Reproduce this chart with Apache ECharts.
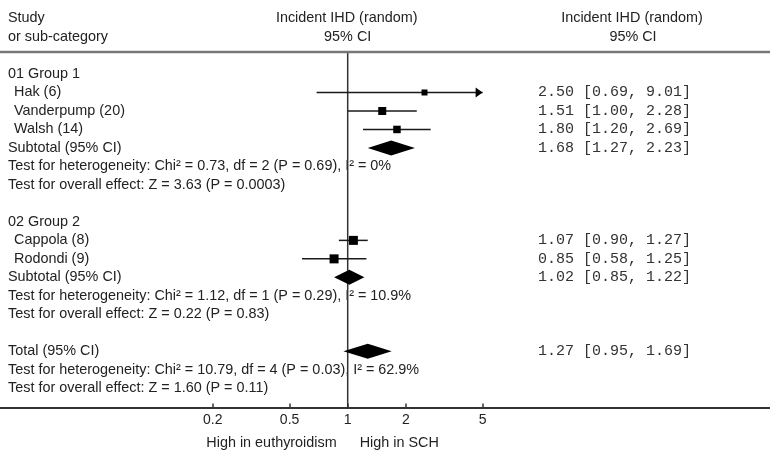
<!DOCTYPE html>
<html><head><meta charset="utf-8">
<script src="https://cdn.jsdelivr.net/npm/echarts@6/dist/echarts.min.js"></script>
<style>html,body{margin:0;padding:0;background:#fff}#c{width:770px;height:451px}</style>
</head><body><div id="c"></div>
<script>
// ---------------- data ----------------
const groupLabels = ['01 Group 1', '02 Group 2'];
const groupRows = [0, 8];

const studyNames = ['Hak (6)', 'Vanderpump (20)', 'Walsh (14)', 'Cappola (8)', 'Rodondi (9)'];
const studyRows = [1, 2, 3, 9, 10];
const studyEst = [2.50, 1.51, 1.80, 1.07, 0.85];
const studyLo  = [0.69, 1.00, 1.20, 0.90, 0.58];
const studyHi  = [9.01, 2.28, 2.69, 1.27, 1.25];
const studyBox = [6, 8, 7.5, 9, 9]; // square size (weight)

const pooledNames = ['Subtotal (95% CI)', 'Subtotal (95% CI)', 'Total (95% CI)'];
const pooledRows = [4, 11, 15];
const pooledEst = [1.68, 1.02, 1.27];
const pooledLo  = [1.27, 0.85, 0.95];
const pooledHi  = [2.23, 1.22, 1.69];

const testTexts = [
  'Test for heterogeneity: Chi\u00b2 = 0.73, df = 2 (P = 0.69), I\u00b2 = 0%',
  'Test for overall effect: Z = 3.63 (P = 0.0003)',
  'Test for heterogeneity: Chi\u00b2 = 1.12, df = 1 (P = 0.29), I\u00b2 = 10.9%',
  'Test for overall effect: Z = 0.22 (P = 0.83)',
  'Test for heterogeneity: Chi\u00b2 = 10.79, df = 4 (P = 0.03), I\u00b2 = 62.9%',
  'Test for overall effect: Z = 1.60 (P = 0.11)'
];
const testRows = [5, 6, 12, 13, 16, 17];

const tickValues = [0.2, 0.5, 1, 2, 5];
const plotMin = 0.2, plotMax = 5;
const favourLeft = 'High in euthyroidism';
const favourRight = 'High in SCH';
const headerLeft = ['Study', 'or sub-category'];
const headerMid = ['Incident IHD (random)', '95% CI'];
const headerRight = ['Incident IHD (random)', '95% CI'];

// ---------------- layout ----------------
const W = 770, H = 451;
const PX_ONE = 347.7, PX_DEC = 193;
const xMin = Math.pow(10, -PX_ONE / PX_DEC);
const xMax = Math.pow(10, (W - PX_ONE) / PX_DEC);
const yMin = -1.19, yMax = 18.04;
const gridTop = 52, gridBottom = 43.5;
const FAM = '"Liberation Sans", Arial, sans-serif';
const SANS = '14.4px ' + FAM;
const MONO = '15px "Liberation Mono", "Courier New", monospace';
const TXT = '#222';

const fmt = v => v.toFixed(2);
const ciText = (e, l, h) => fmt(e) + ' [' + fmt(l) + ', ' + fmt(h) + ']';

function textSeries(rows, texts, xPx, font, color, align) {
  return {
    type: 'custom', coordinateSystem: 'cartesian2d', silent: true, z: 1, clip: false,
    data: rows.map(r => [1, r]),
    encode: { x: 0, y: 1 },
    renderItem: (params, api) => {
      const y = api.coord([1, api.value(1)])[1];
      return { type: 'text', x: xPx, y: y,
        style: { text: texts[params.dataIndex], font: font, fill: color, align: align, verticalAlign: 'middle' } };
    }
  };
}

const chart = echarts.init(document.getElementById('c'), null, { renderer: 'canvas' });

const option = {
  animation: false,
  backgroundColor: '#fff',
  grid: { left: 0, right: 0, top: gridTop, bottom: gridBottom },
  xAxis: {
    type: 'log', logBase: 10, min: xMin, max: xMax, position: 'bottom',
    splitLine: { show: false },
    axisLine: { show: true, onZero: false, lineStyle: { color: '#333', width: 2 } },
    axisTick: { show: true, inside: true, customValues: tickValues, length: 4, lineStyle: { color: '#333', width: 1.5 } },
    axisLabel: { show: true, customValues: tickValues, formatter: v => String(+(+v).toPrecision(3)),
      fontFamily: FAM, fontSize: 14, color: TXT, margin: 6 }
  },
  yAxis: { type: 'value', inverse: true, min: yMin, max: yMax, show: false },
  graphic: [
    { type: 'line', shape: { x1: 0, y1: gridTop, x2: W, y2: gridTop }, style: { stroke: '#777', lineWidth: 2.5 }, z: 10 },
    { type: 'text', x: 8, y: 18, style: { text: headerLeft[0], font: SANS, fill: TXT, verticalAlign: 'middle' } },
    { type: 'text', x: 8, y: 37, style: { text: headerLeft[1], font: SANS, fill: TXT, verticalAlign: 'middle' } },
    { type: 'text', x: PX_ONE - 1, y: 18, style: { text: headerMid[0], font: SANS, fill: TXT, align: 'center', verticalAlign: 'middle' } },
    { type: 'text', x: PX_ONE, y: 37, style: { text: headerMid[1], font: SANS, fill: TXT, align: 'center', verticalAlign: 'middle' } },
    { type: 'text', x: 632, y: 18, style: { text: headerRight[0], font: SANS, fill: TXT, align: 'center', verticalAlign: 'middle' } },
    { type: 'text', x: 633, y: 37, style: { text: headerRight[1], font: SANS, fill: TXT, align: 'center', verticalAlign: 'middle' } },
    { type: 'text', x: PX_ONE - 11, y: 443, style: { text: favourLeft, font: SANS, fill: TXT, align: 'right', verticalAlign: 'middle' } },
    { type: 'text', x: PX_ONE + 12, y: 443, style: { text: favourRight, font: SANS, fill: TXT, align: 'left', verticalAlign: 'middle' } }
  ],
  series: [
    textSeries(groupRows, groupLabels, 8, SANS, TXT, 'left'),
    textSeries(studyRows, studyNames, 14, SANS, TXT, 'left'),
    textSeries(pooledRows, pooledNames, 8, SANS, TXT, 'left'),
    textSeries(testRows, testTexts, 8, SANS, TXT, 'left'),
    textSeries(studyRows, studyEst.map((e, i) => ciText(e, studyLo[i], studyHi[i])), 538, MONO, '#333', 'left'),
    textSeries(pooledRows, pooledEst.map((e, i) => ciText(e, pooledLo[i], pooledHi[i])), 538, MONO, '#333', 'left'),
    {
      type: 'line', z: 3, silent: true, symbol: 'none',
      data: [[1, yMin], [1, yMax]],
      lineStyle: { color: '#333', width: 1.5 }
    },
    {
      type: 'custom', z: 4, silent: true, clip: false,
      data: studyRows.map((r, i) => [r, studyEst[i], studyLo[i], studyHi[i]]),
      encode: { x: [1, 2, 3], y: 0 },
      renderItem: (params, api) => {
        const i = params.dataIndex;
        const row = api.value(0), est = api.value(1), lo = api.value(2), hi = api.value(3);
        const y = api.coord([1, row])[1];
        const xl = api.coord([Math.max(lo, plotMin), row])[0];
        const xh = api.coord([Math.min(hi, plotMax), row])[0];
        const xe = api.coord([est, row])[0];
        const s = studyBox[i];
        const children = [
          { type: 'line', shape: { x1: xl, y1: y, x2: xh, y2: y }, style: { stroke: '#1a1a1a', lineWidth: 1.5 } },
          { type: 'rect', shape: { x: xe - s / 2, y: y - s / 2, width: s, height: s }, style: { fill: '#000' } }
        ];
        if (hi > plotMax) {
          children.push({ type: 'polygon', shape: { points: [[xh, y], [xh - 7, y - 5], [xh - 7, y + 5]] }, style: { fill: '#000' } });
        }
        return { type: 'group', children: children };
      }
    },
    {
      type: 'custom', z: 4, silent: true, clip: false,
      data: pooledRows.map((r, i) => [r, pooledEst[i], pooledLo[i], pooledHi[i]]),
      encode: { x: [1, 2, 3], y: 0 },
      renderItem: (params, api) => {
        const row = api.value(0);
        const y = api.coord([1, row])[1];
        const xe = api.coord([api.value(1), row])[0];
        const xl = api.coord([api.value(2), row])[0];
        const xh = api.coord([api.value(3), row])[0];
        const h = 7.5;
        return { type: 'polygon', shape: { points: [[xl, y], [xe, y - h], [xh, y], [xe, y + h]] }, style: { fill: '#000' } };
      }
    }
  ]
};
chart.setOption(option);
</script>
</body></html>
